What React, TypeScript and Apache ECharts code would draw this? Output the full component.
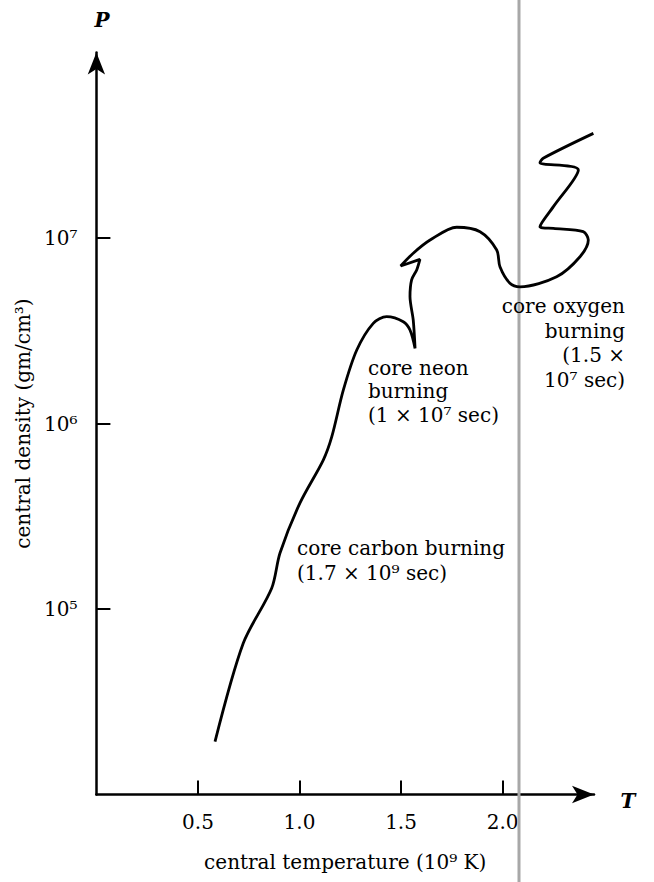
import React, { useEffect, useRef } from "react";
import * as echarts from "echarts";

// central temperature (10^9 K)
const temperature = [
  0.584, 0.723, 0.863, 0.904, 1.002, 1.117, 1.159, 1.216, 1.282, 1.363,
  1.429, 1.511, 1.544, 1.569, 1.56, 1.544, 1.552, 1.577, 1.593, 1.498,
  1.56, 1.643, 1.774, 1.889, 1.971, 1.987, 2.036, 2.086, 2.266, 2.381,
  2.422, 2.397, 2.25, 2.184, 2.25, 2.373, 2.184, 2.2, 2.447,
];
// log10 of central density (gm/cm^3)
const logDensity = [
  4.285, 4.815, 5.112, 5.302, 5.571, 5.803, 5.929, 6.181, 6.396, 6.54,
  6.576, 6.549, 6.504, 6.405, 6.558, 6.684, 6.774, 6.828, 6.885, 6.849,
  6.918, 6.989, 7.058, 7.034, 6.935, 6.845, 6.756, 6.737, 6.791, 6.899,
  6.989, 7.034, 7.052, 7.061, 7.169, 7.367, 7.406, 7.43, 7.564,
];
const xTicks = [0.5, 1.0, 1.5, 2.0];
const yTicks = [1e5, 1e6, 1e7];
const supDigits: Record<string, string> = { "5": "⁵", "6": "⁶", "7": "⁷", "8": "⁸" };

const FONT = "'DejaVu Serif', 'Liberation Serif', serif";

export default function App() {
  const ref = useRef<HTMLDivElement>(null);
  useEffect(() => {
    if (!ref.current) return;
    const chart = echarts.init(ref.current, undefined, { renderer: "svg" });
    const data = temperature.map((t, i) => [t, Math.pow(10, logDensity[i])]);
    chart.setOption({
      animation: false,
      backgroundColor: "#fff",
      grid: { left: 96.4, right: 60, top: 52.5, bottom: 87.5, containLabel: false },
      xAxis: {
        type: "value",
        min: 0,
        max: 2.45,
        interval: 0.5,
        name: "central temperature (10⁹ K)",
        nameLocation: "middle",
        nameGap: 57,
        nameTextStyle: { fontFamily: FONT, fontSize: 20, color: "#000", verticalAlign: "top" },
        axisLine: {
          onZero: false,
          symbol: ["none", "arrow"],
          symbolSize: [13, 22],
          lineStyle: { color: "#000", width: 2.5 },
        },
        axisTick: {
          inside: true,
          length: 14,
          customValues: xTicks,
          lineStyle: { color: "#000", width: 2 },
        },
        axisLabel: {
          customValues: xTicks,
          margin: 17,
          formatter: (v: number) => v.toFixed(1),
          fontFamily: FONT,
          fontSize: 20,
          color: "#000",
        },
        splitLine: { show: false },
      },
      yAxis: {
        type: "log",
        min: 1e4,
        max: 1e8,
        name: "central density (gm/cm³)",
        nameLocation: "middle",
        nameRotate: 90,
        nameGap: 60,
        nameTextStyle: { fontFamily: FONT, fontSize: 20, color: "#000" },
        axisLine: {
          onZero: false,
          symbol: ["none", "arrow"],
          symbolSize: [13, 22],
          lineStyle: { color: "#000", width: 2.5 },
        },
        axisTick: {
          inside: true,
          length: 14,
          customValues: yTicks,
          lineStyle: { color: "#000", width: 2 },
        },
        axisLabel: {
          customValues: yTicks,
          margin: 19,
          formatter: (v: number) => {
            const e = String(Math.round(Math.log10(v)));
            return "10" + (supDigits[e] || e);
          },
          fontFamily: FONT,
          fontSize: 20,
          color: "#000",
        },
        splitLine: { show: false },
      },
      series: [
        {
          type: "line",
          data,
          smooth: 0.3,
          showSymbol: false,
          clip: false,
          lineStyle: { color: "#000", width: 2.8 },
        },
      ],
      graphic: [
        {
          type: "line",
          shape: { x1: 519, y1: 0, x2: 519, y2: 882 },
          style: { stroke: "#a8a8a8", lineWidth: 3 },
          z: 1,
        },
        {
          type: "text",
          style: {
            text: "core carbon burning\n(1.7 × 10⁹ sec)",
            x: 297, y: 535.5,
            font: `20px ${FONT}`,
            lineHeight: 25,
            fill: "#000",
            align: "left",
            verticalAlign: "top",
          },
          z: 10,
        },
        {
          type: "text",
          style: {
            text: "core neon\nburning\n(1 × 10⁷ sec)",
            x: 368, y: 356,
            font: `20px ${FONT}`,
            lineHeight: 23.5,
            fill: "#000",
            align: "left",
            verticalAlign: "top",
          },
          z: 10,
        },
        {
          type: "text",
          style: {
            text: "core oxygen\nburning\n(1.5 ×\n10⁷ sec)",
            x: 625, y: 294,
            font: `20px ${FONT}`,
            lineHeight: 24.5,
            fill: "#000",
            align: "right",
            verticalAlign: "top",
          },
          z: 10,
        },
        {
          type: "text",
          style: {
            text: "P",
            x: 102, y: 20,
            font: `italic bold 20px ${FONT}`,
            fill: "#000",
            align: "center",
            verticalAlign: "middle",
          },
        },
        {
          type: "text",
          style: {
            text: "T",
            x: 628, y: 801,
            font: `italic bold 20px ${FONT}`,
            fill: "#000",
            align: "center",
            verticalAlign: "middle",
          },
        },
      ],
    });
    return () => chart.dispose();
  }, []);
  return (
    <div
      ref={ref}
      style={{ position: "absolute", left: 0, top: 0, width: 654, height: 882, background: "#fff" }}
    />
  );
}
